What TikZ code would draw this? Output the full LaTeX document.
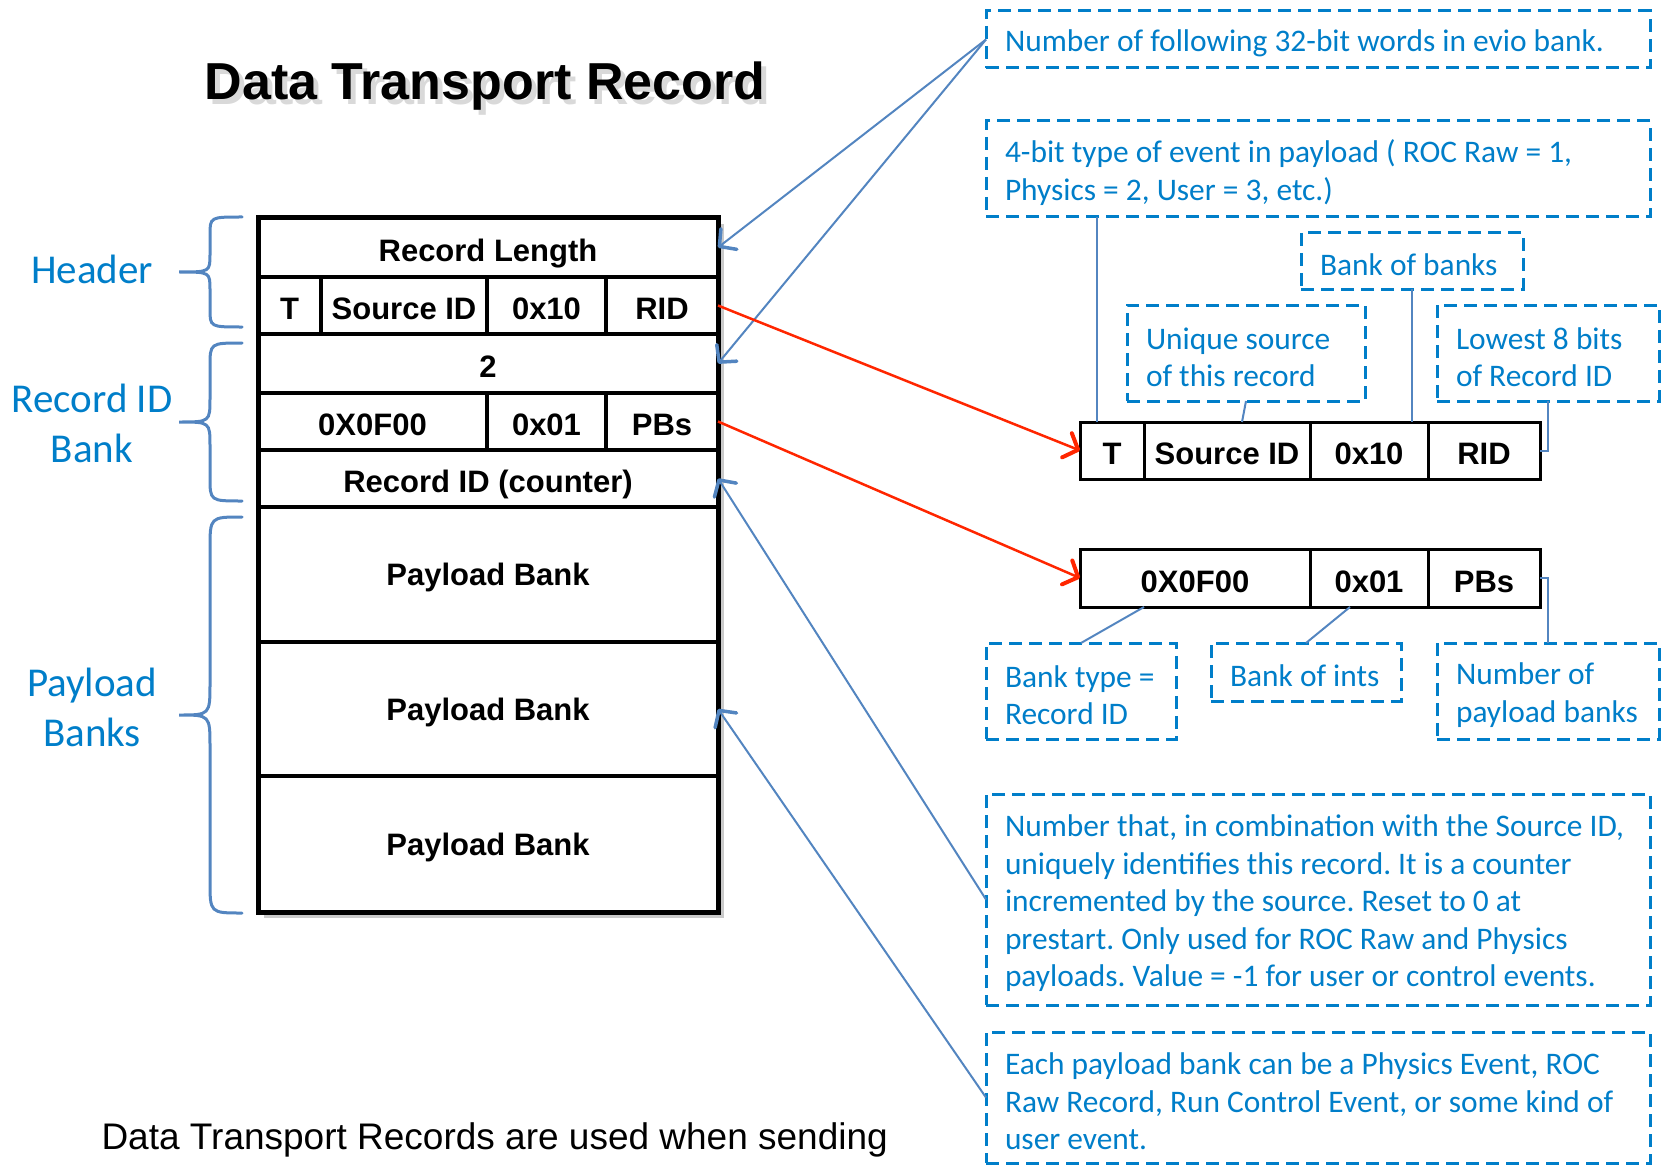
\documentclass[tikz,border=0pt]{standalone}
\usepackage{fontspec}
\setmainfont{Liberation Sans}
\newfontfamily\notefont{Carlito}
\usetikzlibrary{arrows.meta,shadows,calc}

\definecolor{noteblue}{RGB}{0,126,201}
\definecolor{linkblue}{RGB}{83,133,192}
\definecolor{arrred}{RGB}{255,38,0}

\def\sidebrace(#1:#2:#3){\draw[bracestyle] (242,#1) .. controls (210,#1) .. (210,#1+#3) -- (210,{(#1+#2)/2-#3}) .. controls (210,{(#1+#2)/2}) .. (179,{(#1+#2)/2}) .. controls (210,{(#1+#2)/2}) .. (210,{(#1+#2)/2+#3}) -- (210,#2-#3) .. controls (210,#2) .. (242,#2);}

\tikzset{
	cell/.style={draw, line width=3.5pt, inner sep=0pt, outer sep=0pt, text height=28pt, text depth=0pt, font=\bfseries\fontsize{31}{36}\selectfont},
	bankcell/.style={cell, minimum width=460pt, text height=22pt},
	stripcell/.style={cell, line width=3pt},
	note/.style={draw=noteblue, text=noteblue, line width=3pt, dash pattern=on 13pt off 7pt, inner xsep=19pt, inner ysep=0pt, outer sep=0pt, align=flush left, anchor=north west, font=\notefont\fontsize{31.4}{37.5}\selectfont, execute at begin node={\frenchspacing\rule{0pt}{30pt}}},
	sidelabel/.style={text=noteblue, align=center, font=\notefont\fontsize{41}{50}\selectfont},
	bracestyle/.style={linkblue, line width=3pt, line cap=round},
	link/.style={linkblue, line width=2pt},
	pointer/.style={link, -{Straight Barb[length=12pt,width=26pt,line width=3.5pt,round]}},
	redpointer/.style={arrred, line width=2.5pt, -{Straight Barb[length=12pt,width=26pt,line width=4pt,round]}},
}

\begin{document}
\begin{tikzpicture}[x=1pt, y=-1pt]
			%%%%% START %%%%%
			\useasboundingbox (0,0) rectangle (1667,1166);
			\clip (0,0) rectangle (1667,1166);
			
			% title
			\node[anchor=base, text=black!25, opacity=.6, font=\bfseries\fontsize{52}{60}\selectfont] (titleshadow) at (490,105) {Data Transport Record};
			\node[anchor=base, font=\bfseries\fontsize{52}{60}\selectfont] (title) at (485,100) {Data Transport Record};
			
			% the record
			\fill[white, drop shadow={shadow xshift=6pt, shadow yshift=-6pt, opacity=.35, fill=black!60}] (258,218) rectangle (718,912);
			
			\node[cell, minimum width=460pt, minimum height=59pt] (rlen) at (488,247.5) {Record Length};
			\node[cell, minimum width=63pt, minimum height=57pt] (t) at (289.5,305.5) {T};
			\node[cell, minimum width=166pt, minimum height=57pt] (src) at (404,305.5) {Source ID};
			\node[cell, minimum width=119pt, minimum height=57pt] (v10) at (546.5,305.5) {0x10};
			\node[cell, minimum width=112pt, minimum height=57pt] (rid) at (662,305.5) {RID};
			\node[cell, minimum width=460pt, minimum height=59pt] (two) at (488,363.5) {2};
			\node[cell, minimum width=229pt, minimum height=57pt] (f00) at (372.5,421.5) {0X0F00};
			\node[cell, minimum width=119pt, minimum height=57pt] (v01) at (546.5,421.5) {0x01};
			\node[cell, minimum width=112pt, minimum height=57pt] (pbs) at (662,421.5) {PBs};
			\node[cell, minimum width=460pt, minimum height=57pt] (cnt) at (488,478.5) {Record ID (counter)};
			\node[bankcell, minimum height=135pt] (pb1) at (488,574.5) {Payload Bank};
			\node[bankcell, minimum height=134pt] (pb2) at (488,709) {Payload Bank};
			\node[bankcell, minimum height=136pt] (pb3) at (488,844) {Payload Bank};
			
			\draw[line width=5pt] (258,218) rectangle (718,912);
			
			% braces
			\sidebrace(217:327:18)
			\sidebrace(343:501:24)
			\sidebrace(517:913:32)
			\node[sidelabel] (lhead) at (92,269) {Header};
			\node[sidelabel] (lrec) at (92,423) {Record ID\\Bank};
			\node[sidelabel] (lpay) at (92,707) {Payload\\Banks};
			
			\node[anchor=base west, font=\fontsize{37}{44}\selectfont] (foot) at (98,1149) {Data Transport Records are used when sending};
			
			% expanded words
			\node[stripcell, minimum width=64pt, minimum height=57pt] (sT) at (1112,450.5) {T};
			\node[stripcell, minimum width=166pt, minimum height=57pt] (sSrc) at (1227,450.5) {Source ID};
			\node[stripcell, minimum width=118pt, minimum height=57pt] (s10) at (1369,450.5) {0x10};
			\node[stripcell, minimum width=112pt, minimum height=57pt] (sRID) at (1484,450.5) {RID};
			
			\node[stripcell, minimum width=230pt, minimum height=58pt] (s0F) at (1195,578) {0X0F00};
			\node[stripcell, minimum width=118pt, minimum height=58pt] (s01) at (1369,578) {0x01};
			\node[stripcell, minimum width=112pt, minimum height=58pt] (sPBs) at (1484,578) {PBs};
			
			% notes
			\node[note, text width=626pt, minimum height=57pt] (nwords) at (986,11) {Number of following 32-bit words in evio bank.};
			\node[note, text width=626pt, minimum height=96pt] (evtype) at (986,121) {4-bit type of event in payload ( ROC Raw = 1,\\Physics = 2, User = 3, etc.)};
			\node[note, text width=184pt, minimum height=56pt] (bob) at (1301,233) {Bank of banks};
			\node[note, text width=200pt, minimum height=96pt] (usrc) at (1127,305) {Unique source\\of this record};
			\node[note, text width=184pt, minimum height=96pt] (low8) at (1437,305) {Lowest 8 bits\\of Record ID};
			\node[note, text width=152pt, minimum height=96pt] (btype) at (986,643) {Bank type =\\Record ID};
			\node[note, text width=152pt, minimum height=58pt] (bints) at (1211,643) {Bank of ints};
			\node[note, text width=184pt, minimum height=96pt] (npb) at (1437,643) {Number of\\payload banks};
			\node[note, text width=626pt, minimum height=211pt] (rcount) at (986,794) {Number that, in combination with the Source ID,\\uniquely identifies this record. It is a counter\\incremented by the source. Reset to 0 at\\prestart. Only used for ROC Raw and Physics\\payloads. Value = -1 for user or control events.};
			\node[note, text width=626pt, minimum height=131pt] (each) at (986,1032) {Each payload bank can be a Physics Event, ROC\\Raw Record, Run Control Event, or some kind of\\user event.};
			
			% pointers
			\draw[pointer] (nwords.west) -- (rlen.east);
			\draw[pointer] (nwords.west) -- (two.east);
			\draw[pointer] (rcount.west) -- (cnt.east);
			\draw[pointer] (each.west) -- (pb2.east);
			
			\draw[redpointer] (rid.east) -- (sT.west);
			\draw[redpointer] (pbs.east) -- (s0F.west);
			
			\coordinate (tk) at ($(sT.north west)+(17,0)$);
			\draw[link] (evtype.south -| tk) -- (tk);
			\draw[link] (usrc.south) -- ($(sSrc.north)+(15,0)$);
			\draw[link] (bob.south) -- (bob.south |- s10.north);
			\draw[link] (low8.south) |- (sRID.east);
			\draw[link] (sPBs.east) -| (npb.north);
			\draw[link] ($(s0F.south)+(-51,0)$) -- (btype.north);
			\draw[link] ($(s01.south)+(-19,0)$) -- (bints.north);
			
			%%%%% END %%%%%
\end{tikzpicture}
\end{document}
